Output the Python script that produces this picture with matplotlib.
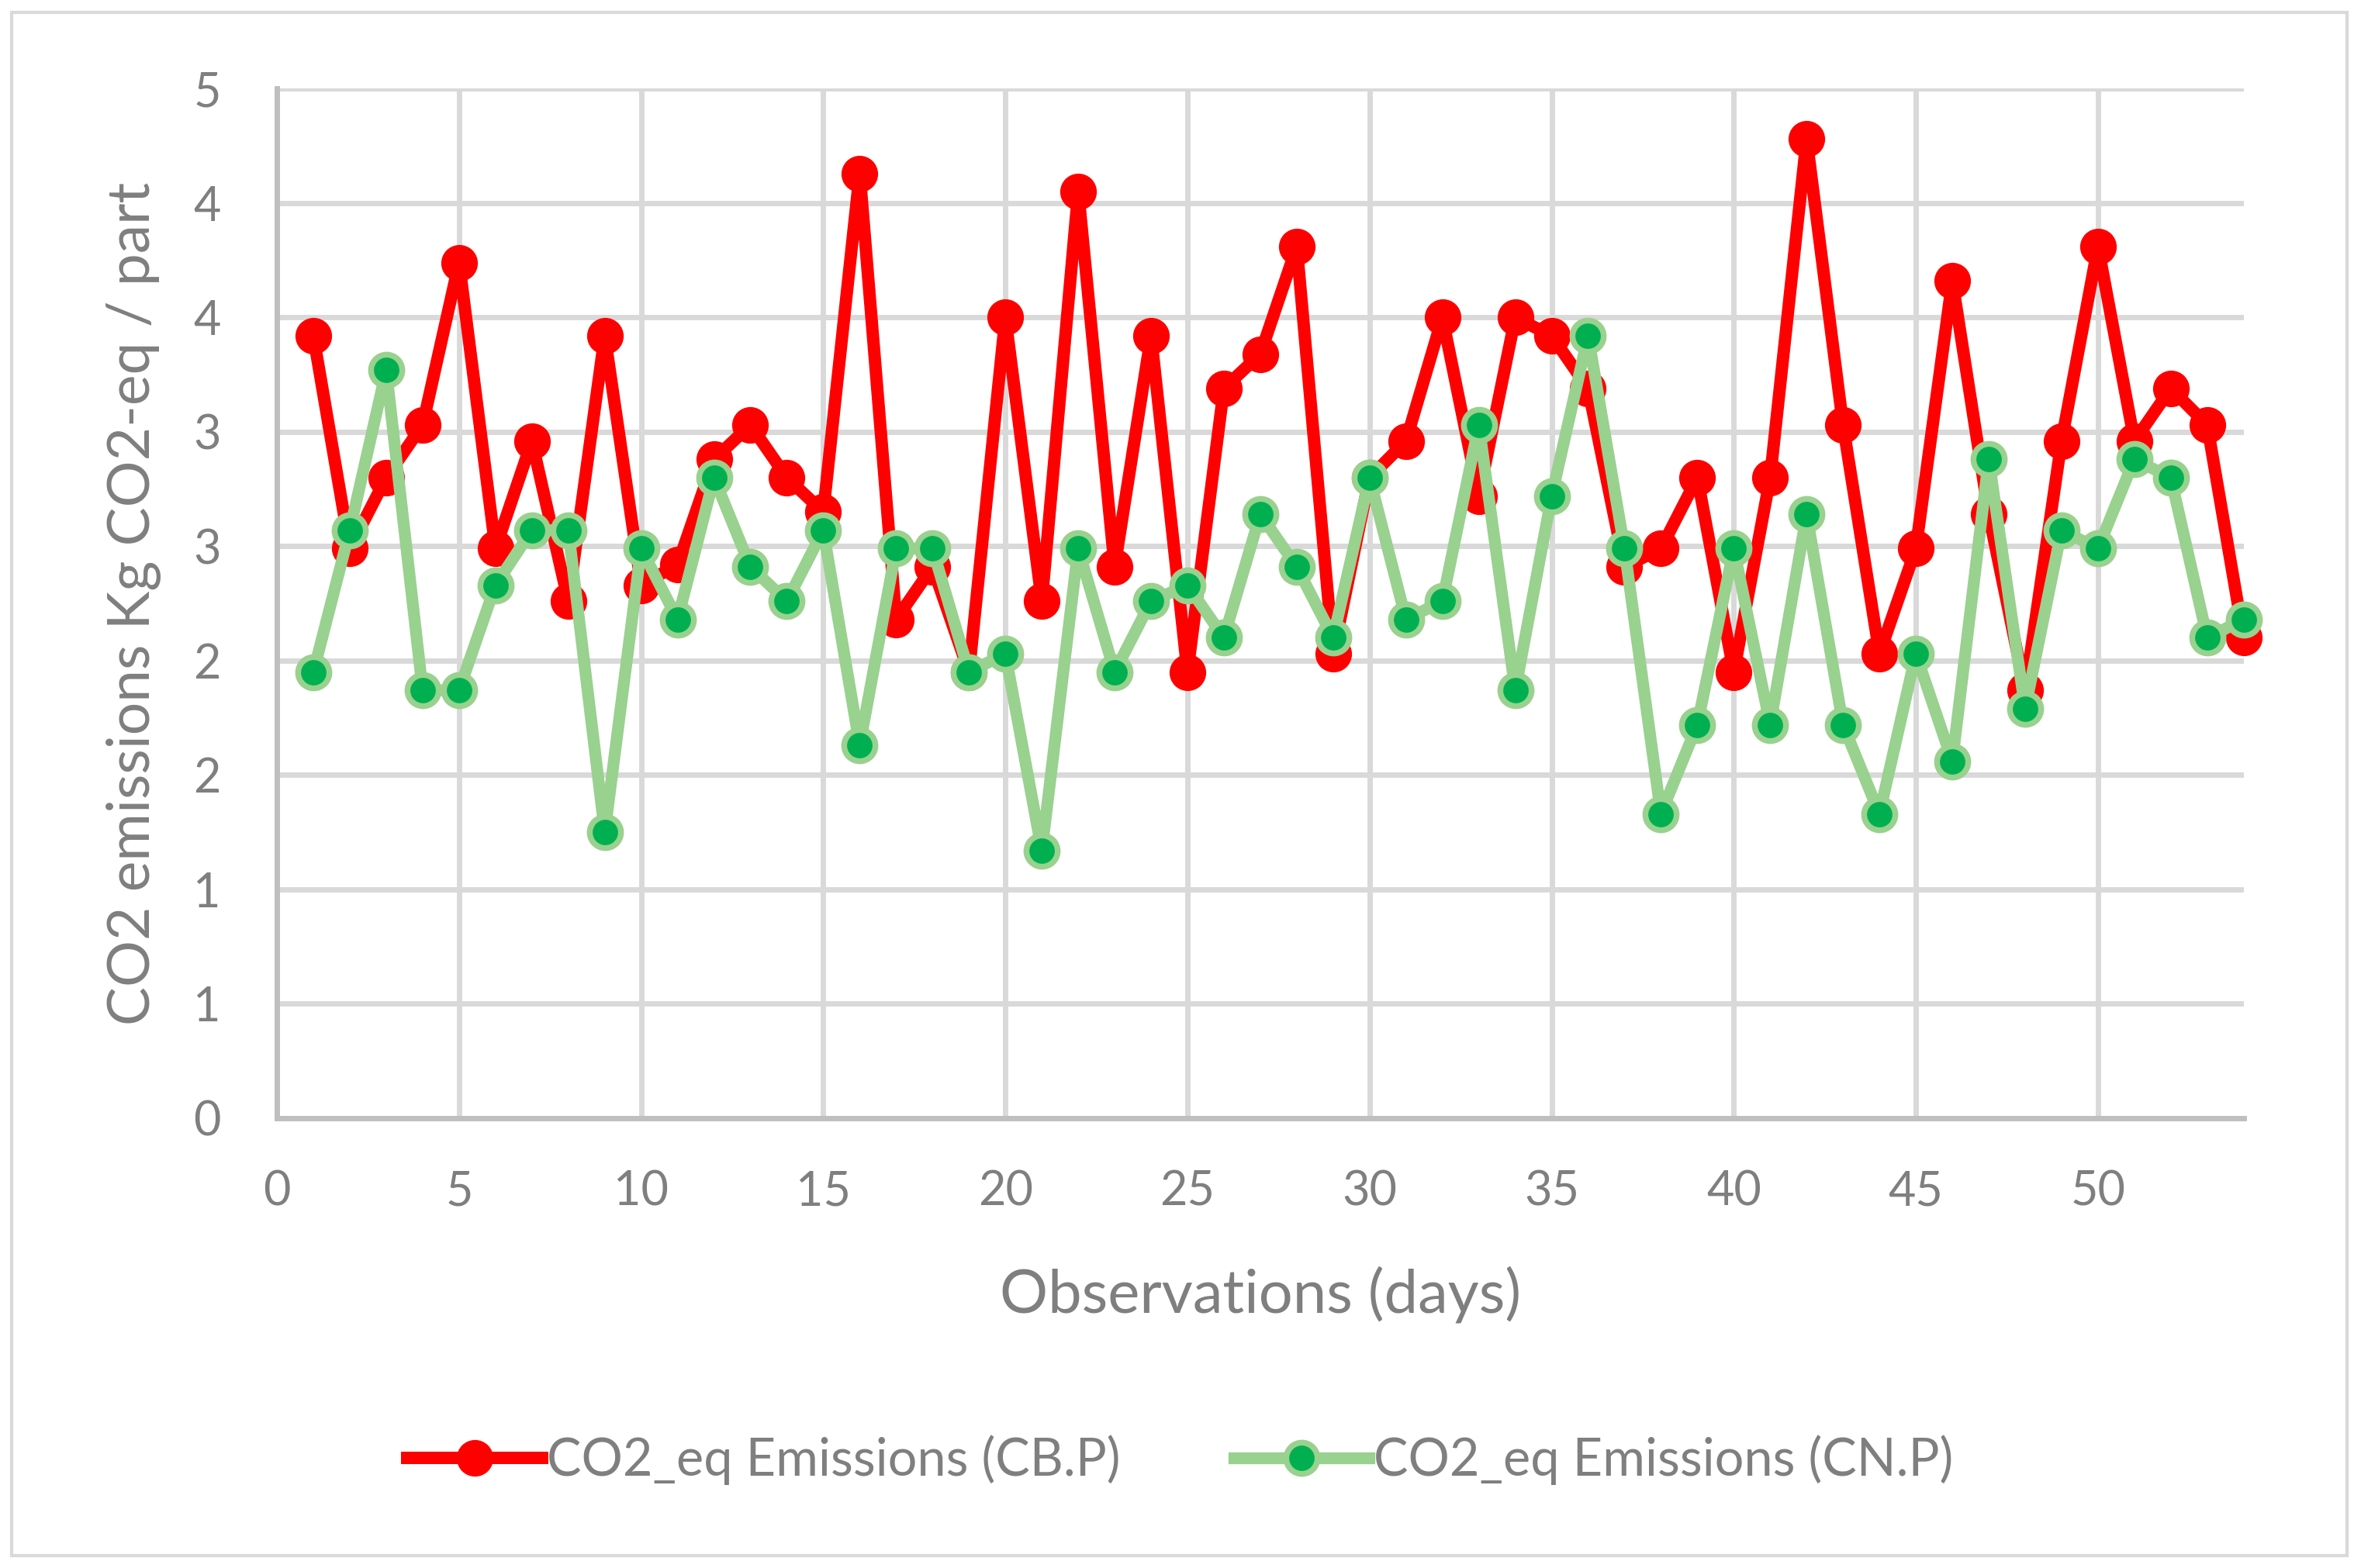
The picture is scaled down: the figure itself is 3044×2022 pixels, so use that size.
import matplotlib
matplotlib.use("Agg")
import matplotlib.pyplot as plt
from matplotlib.patches import Rectangle

# observations (days) and the two emission series
days = list(range(1, 55))
cb_p = [3.42, 2.49, 2.80, 3.03, 3.74, 2.49, 2.96, 2.26, 3.42, 2.33,
        2.42, 2.88, 3.03, 2.80, 2.65, 4.13, 2.18, 2.41, 1.95, 3.50,
        2.26, 4.05, 2.41, 3.42, 1.95, 3.19, 3.34, 3.81, 2.03, 2.80,
        2.96, 3.50, 2.72, 3.50, 3.42, 3.19, 2.41, 2.49, 2.80, 1.95,
        2.80, 4.28, 3.03, 2.03, 2.49, 3.66, 2.64, 1.87, 2.96, 3.81,
        2.96, 3.19, 3.03, 2.10]
cn_p = [1.95, 2.57, 3.27, 1.87, 1.87, 2.33, 2.57, 2.57, 1.25, 2.49,
        2.18, 2.80, 2.41, 2.26, 2.57, 1.63, 2.49, 2.49, 1.95, 2.03,
        1.17, 2.49, 1.95, 2.26, 2.33, 2.10, 2.64, 2.41, 2.10, 2.80,
        2.18, 2.26, 3.03, 1.87, 2.72, 3.42, 2.49, 1.33, 1.72, 2.49,
        1.72, 2.64, 1.72, 1.33, 2.03, 1.56, 2.88, 1.79, 2.57, 2.49,
        2.88, 2.80, 2.10, 2.18]

xticks = [0, 5, 10, 15, 20, 25, 30, 35, 40, 45, 50]
yticks = [0, 0.5, 1, 1.5, 2, 2.5, 3, 3.5, 4, 4.5]
ytick_labels = ["0", "1", "1", "2", "2", "3", "3", "4", "4", "5"]

plt.rcParams["font.family"] = ["Lato", "DejaVu Sans"]
text_col = "#7F7F7F"
grid_col = "#D9D9D9"

fig = plt.figure(figsize=(30.44, 20.22), dpi=100)
ax = fig.add_axes([0.1173, 0.2869, 0.8330, 0.6565])

#outer chart border
fig.patches.append(Rectangle((0.005, 0.008), 0.989, 0.984, transform=fig.transFigure,
                             fill=False, edgecolor=grid_col, linewidth=3))

#the two series
ax.plot(days, cb_p, color="#FF0000", linewidth=11.5, marker="o", markersize=34,
        markerfacecolor="#FF0000", markeredgecolor="#FF0000", markeredgewidth=0,
        label="CO2_eq Emissions (CB.P)", clip_on=False, zorder=3)
ax.plot(days, cn_p, color="#99D18F", linewidth=11, marker="o", markersize=29,
        markerfacecolor="#00B050", markeredgecolor="#99D18F", markeredgewidth=5.4,
        label="CO2_eq Emissions (CN.P)", clip_on=False, zorder=4)

ax.set_xlim(0, 54)
ax.set_ylim(0, 4.5)
ax.set_xticks(xticks)
ax.set_yticks(yticks)
ax.set_yticklabels(ytick_labels)
ax.tick_params(axis="both", length=0, labelsize=44, labelcolor=text_col)
ax.tick_params(axis="y", pad=52)
ax.tick_params(axis="x", pad=48)

ax.grid(True, color=grid_col, linewidth=5, zorder=0)
ax.set_axisbelow(True)
for side in ["top", "right"]:
    ax.spines[side].set_visible(False)
ax.spines["left"].set_color("#BFBFBF")
ax.spines["left"].set_linewidth(5)
ax.spines["bottom"].set_color("#BFBFBF")
ax.spines["bottom"].set_linewidth(5)

ax.set_xlabel("Observations (days)", fontsize=56, color=text_col, labelpad=48)
ax.set_ylabel("CO2 emissions Kg CO2-eq / part", fontsize=54, color=text_col, labelpad=30)

leg = fig.legend(loc="center", bbox_to_anchor=(0.5, 0.069), ncol=2, frameon=False,
                 fontsize=48, handlelength=2.6, handletextpad=0.1, columnspacing=2.2)
for t in leg.get_texts():
    t.set_color(text_col)

fig.savefig("out.png", dpi=100)
